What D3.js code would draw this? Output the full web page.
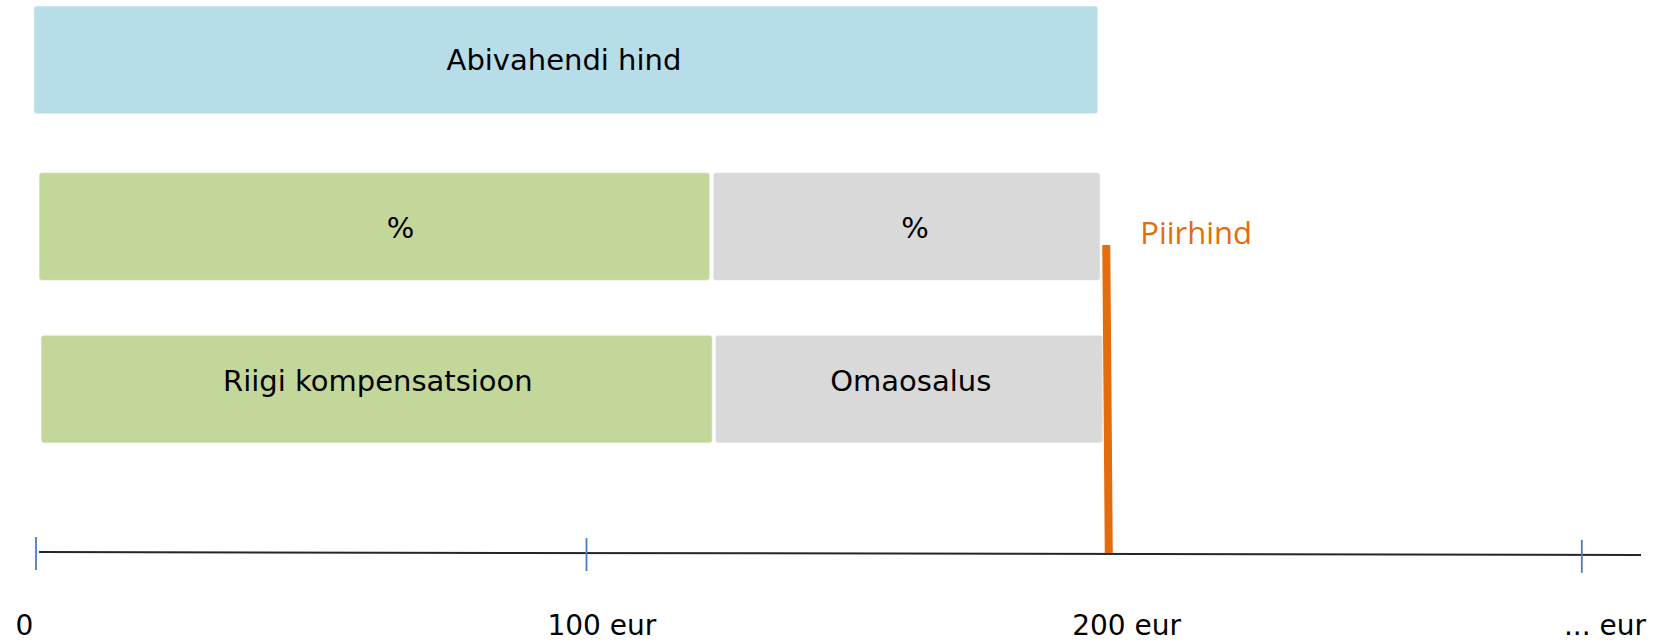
<!DOCTYPE html>
<html>
<head>
<meta charset="utf-8">
<script src="https://cdn.jsdelivr.net/npm/d3@7"></script>
<style>
  body { margin: 0; background: #fff; }
  text { font-family: "DejaVu Sans", Verdana, sans-serif; }
</style>
</head>
<body>
<div id="chart"></div>
<script>
// chart size
const width = 1657
const height = 643

// Data (values in eur)
const rows = ["hind", "protsent", "osad"]
const segRow = ["hind", "protsent", "protsent", "osad", "osad"]
const segLabel = ["Abivahendi hind", "%", "%", "Riigi kompensatsioon", "Omaosalus"]
const segStart = [-0.4, 0.55, 123.0, 0.9, 123.4]
const segEnd = [192.9, 122.4, 193.3, 122.85, 193.8]
const segLabelAt = [95.9, 66.2, 159.7, 62.1, 158.9]
const segKind = ["hind", "riik", "oma", "riik", "oma"]

const tickValues = [0, 100, 280.8]
const axisLabels = ["0", "100 eur", "200 eur", "... eur"]
const axisLabelAt = [-2.1, 102.8, 198.1, 285]

const piirhind = 194.6
const piirLabel = "Piirhind"

// colours per segment kind
var color = d3.scaleOrdinal()
  .domain(["hind", "riik", "oma"])
  .range(["#b7dde8", "#c4d79b", "#d9d9d9"])

// label offset from the middle of each row
var labelDy = { hind: 10.5, protsent: 13, osad: 2 }

var svg = d3.select("#chart")
  .append("svg")
  .attr("width", width)
  .attr("height", height)

// x scale: 0 and 100 eur positions taken from the ticks
var x = d3.scaleLinear()
  .domain([0, 100])
  .range([36, 586.5])

var y = d3.scaleBand()
  .domain(rows)
  .range([6, 443])
  .paddingInner(0.345)
  .paddingOuter(0)

var segs = segLabel.map(function(d, i) {
  return { label: d, row: segRow[i], start: segStart[i], end: segEnd[i], at: segLabelAt[i], kind: segKind[i] }
})

// bars
var bar = svg.append("g")
  .selectAll("g")
  .data(segs)
  .enter().append("g")

bar.append("rect")
  .attr("x", function(d) { return x(d.start) })
  .attr("y", function(d) { return y(d.row) + (d.row == "protsent" ? 2 : 0) })
  .attr("width", function(d) { return x(d.end) - x(d.start) })
  .attr("height", y.bandwidth())
  .attr("rx", 3)
  .style("fill", function(d) { return color(d.kind) })
  .style("stroke", "#ffffff")
  .style("stroke-opacity", 0.6)
  .style("stroke-width", 1)

bar.append("text")
  .attr("x", function(d) { return x(d.at) })
  .attr("y", function(d) { return y(d.row) + y.bandwidth() / 2 + labelDy[d.row] })
  .attr("text-anchor", "middle")
  .style("font-size", "29px")
  .style("fill", "#000")
  .text(function(d) { return d.label })

// axis line, slightly sloped like the original drawing
var axisY = function(px) { return 552 + 3 * (px - 39) / 1602 }

svg.append("line")
  .attr("x1", 39)
  .attr("y1", axisY(39))
  .attr("x2", 1641)
  .attr("y2", axisY(1641))
  .style("stroke", "#262626")
  .style("stroke-width", 2)

svg.append("g")
  .selectAll("line")
  .data(tickValues)
  .enter().append("line")
    .attr("x1", function(d) { return x(d) })
    .attr("x2", function(d) { return x(d) })
    .attr("y1", function(d) { return axisY(x(d)) - 15 })
    .attr("y2", function(d) { return axisY(x(d)) + 18 })
    .style("stroke", "#4a7ebb")
    .style("stroke-width", 1.8)

svg.append("g")
  .selectAll("text")
  .data(axisLabels)
  .enter().append("text")
    .attr("x", function(d, i) { return x(axisLabelAt[i]) })
    .attr("y", 635)
    .attr("text-anchor", "middle")
    .style("font-size", "28px")
    .style("fill", "#000")
    .text(function(d) { return d })

// price limit line
svg.append("line")
  .attr("x1", x(piirhind) - 1)
  .attr("x2", x(piirhind) + 1.5)
  .attr("y1", 245)
  .attr("y2", axisY(x(piirhind)) - 1)
  .style("stroke", "#e46c0a")
  .style("stroke-width", 8)

svg.append("text")
  .attr("x", x(piirhind) + 33)
  .attr("y", 244)
  .style("font-family", "'Open Sans', sans-serif")
  .style("font-size", "31px")
  .style("fill", "#e46c0a")
  .text(piirLabel)
</script>
</body>
</html>
